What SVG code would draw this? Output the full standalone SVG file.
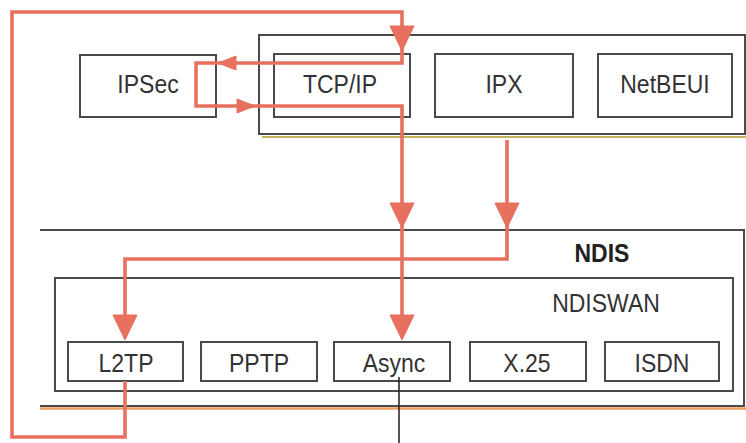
<svg xmlns="http://www.w3.org/2000/svg" xmlns:xlink="http://www.w3.org/1999/xlink" width="746" height="443" viewBox="0 0 746 443">
  <style>
    .box { fill: #ffffff; stroke: #4a4a4a; stroke-width: 2; }
    .frame { fill: none; stroke: #4a4a4a; stroke-width: 2; }
    .label, .title { font-family: "Liberation Sans", Arial, sans-serif; font-size: 25px; text-anchor: middle;
                     transform-box: fill-box; transform-origin: center; transform: scaleX(0.92); }
    .label { fill: #333333; }
    .title { font-weight: bold; fill: #222222; }
    .flow { fill: none; stroke: #e8705f; stroke-width: 3.6; stroke-linejoin: miter; }
    .head { fill: #e8705f; stroke: #e8705f; stroke-width: 1; stroke-linejoin: miter; }
    .wire { fill: none; stroke: #2a2a2a; stroke-width: 1.6; }
  </style>
  <defs>
    <!-- arrowheads with the tip at the origin -->
    <polygon id="down" class="head" points="-12,-25 12,-25 0,0"/>
    <polygon id="left" class="head" points="0,0 18,-7 18,7"/>
  </defs>

  <rect width="746" height="443" fill="#ffffff"/>

  <!-- protocol layer frame -->
  <g id="protocols">
    <line x1="262" y1="137" x2="746" y2="137" stroke="#c2b25a" stroke-width="2"/>
    <rect x="259" y="35" width="486" height="99" class="frame"/>
  </g>

  <!-- NDIS layer frame -->
  <g id="ndis">
    <line x1="40" y1="408.5" x2="746" y2="408.5" stroke="#eea060" stroke-width="2.5"/>
    <path d="M40,230 H744 V406 H40" class="frame"/>
    <text x="602" y="262" class="title">NDIS</text>
  </g>

  <g id="ndiswan">
    <rect x="55" y="278" width="678" height="113" class="frame"/>
    <text x="606" y="312" class="label">NDISWAN</text>
  </g>

  <g id="ipsec">
    <rect x="80" y="55" width="136" height="62" class="box"/>
    <text x="148" y="93" class="label">IPSec</text>
  </g>
  <g id="tcpip">
    <rect x="274" y="54" width="136" height="63" class="box"/>
    <text x="340" y="93" class="label">TCP/IP</text>
  </g>
  <g id="ipx">
    <rect x="435" y="54" width="138" height="63" class="box"/>
    <text x="504" y="93" class="label">IPX</text>
  </g>
  <g id="netbeui">
    <rect x="598" y="54" width="134" height="63" class="box"/>
    <text x="665" y="93" class="label">NetBEUI</text>
  </g>

  <g id="l2tp">
    <rect x="68" y="342" width="115" height="39" class="box"/>
    <text x="126" y="372" class="label">L2TP</text>
  </g>
  <g id="pptp">
    <rect x="201" y="342" width="116" height="39" class="box"/>
    <text x="259" y="372" class="label">PPTP</text>
  </g>
  <g id="async">
    <rect x="334" y="342" width="116" height="39" class="box"/>
    <text x="394" y="372" class="label">Async</text>
  </g>
  <g id="x25">
    <rect x="470" y="342" width="116" height="39" class="box"/>
    <text x="527" y="372" class="label">X.25</text>
  </g>
  <g id="isdn">
    <rect x="605" y="342" width="114" height="39" class="box"/>
    <text x="662" y="372" class="label">ISDN</text>
  </g>

  <g id="connectors">
    <!-- L2TP loops back up into TCP/IP, then out to IPSec -->
    <path d="M125,381 V437 H12 V12 H402 V63 H219" class="flow"/>
    <!-- IPSec back into TCP/IP, then down to Async -->
    <path d="M219,63 H196 V106 H402 V338" class="flow"/>
    <!-- IPX down to L2TP -->
    <path d="M507,140 V259 H125 V338" class="flow"/>

    <use xlink:href="#down" x="402" y="51"/>
    <use xlink:href="#left" x="218" y="63"/>
    <use xlink:href="#left" transform="translate(255,106) scale(-1,1)"/>
    <use xlink:href="#down" x="402" y="228"/>
    <use xlink:href="#down" x="507" y="228"/>
    <use xlink:href="#down" x="125" y="340"/>
    <use xlink:href="#down" x="402" y="340"/>

    <!-- link out of Async -->
    <line x1="399" y1="377" x2="399" y2="443" class="wire"/>
  </g>
</svg>
